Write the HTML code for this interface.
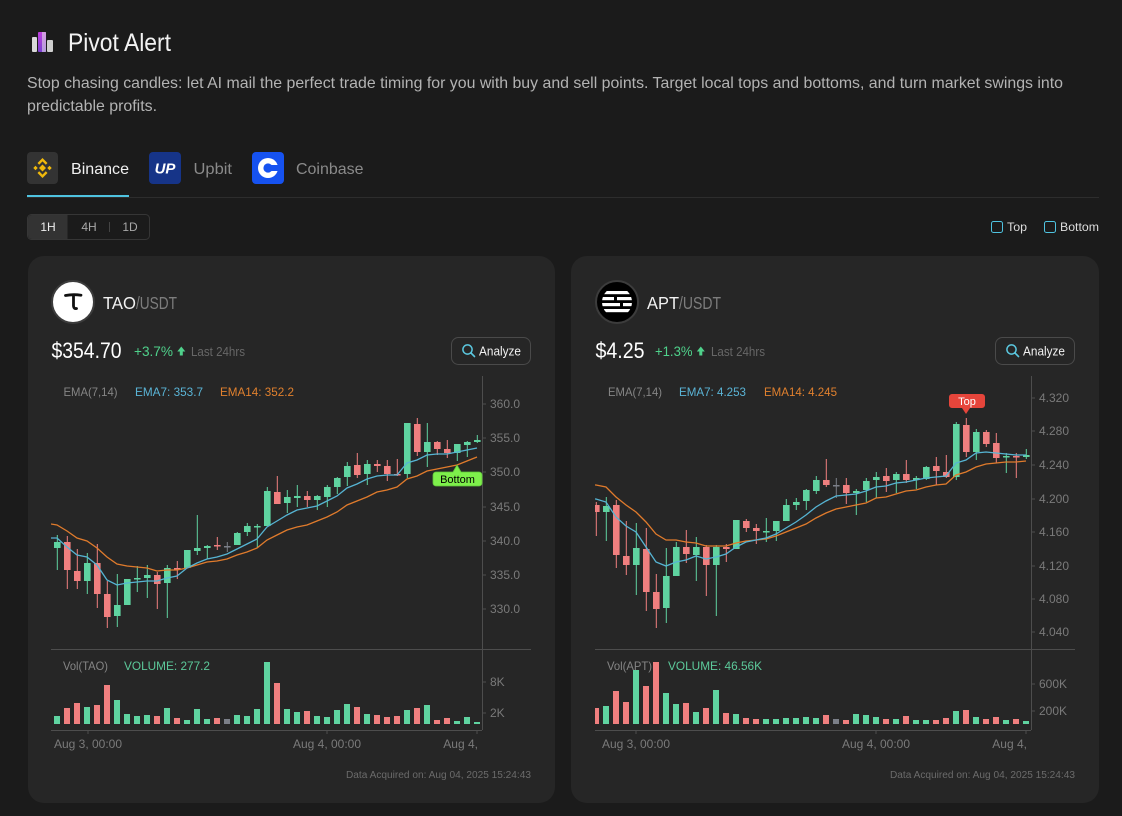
<!DOCTYPE html>
<html><head><meta charset="utf-8"><style>
html,body{margin:0;padding:0;background:#1b1b1b;}
svg{display:block;font-family:"Liberation Sans",sans-serif;}
</style></head><body>
<svg width="1122" height="816" viewBox="0 0 1122 816" xmlns="http://www.w3.org/2000/svg">
<defs>
<linearGradient id="pg" x1="0" y1="0" x2="0" y2="1"><stop offset="0" stop-color="#c040e0"/><stop offset="1" stop-color="#7a3fd0"/></linearGradient>
<clipPath id="cl1"><rect x="51" y="376" width="431" height="273"/></clipPath>
<clipPath id="cl2"><rect x="595" y="376" width="436" height="273"/></clipPath>
<clipPath id="cv1"><rect x="51" y="650" width="431" height="80"/></clipPath>
<clipPath id="cv2"><rect x="595" y="650" width="436" height="80"/></clipPath>
<clipPath id="apc"><circle cx="617" cy="302" r="15"/></clipPath>
</defs>
<rect width="1122" height="816" fill="#1b1b1b"/>

<!-- Header -->
<rect x="32" y="37" width="5" height="15" rx="1" fill="#d9d9d9"/>
<rect x="38" y="32" width="8" height="20" rx="1" fill="url(#pg)"/>
<rect x="42" y="32" width="4" height="20" fill="#e6e6e6" opacity="0.55"/>
<rect x="47" y="40" width="6" height="12" rx="1" fill="#cfcfcf"/>
<text x="68" y="51" font-size="25" fill="#f2f2f2" textLength="103" lengthAdjust="spacingAndGlyphs">Pivot Alert</text>
<text x="27" y="88" font-size="16" fill="#b3b3b3" textLength="1036" lengthAdjust="spacingAndGlyphs">Stop chasing candles: let AI mail the perfect trade timing for you with buy and sell points. Target local tops and bottoms, and turn market swings into</text>
<text x="27" y="111" font-size="16" fill="#b3b3b3" textLength="130" lengthAdjust="spacingAndGlyphs">predictable profits.</text>

<!-- Tabs -->
<rect x="27" y="152" width="31" height="32" rx="4" fill="#333333"/>
<g fill="#f0b90b">
<path d="M42.5,164.5 L46,168 L42.5,171.5 L39,168 Z"/>
<path d="M35.5,165.8 L37.7,168 L35.5,170.2 L33.3,168 Z"/>
<path d="M49.5,165.8 L51.7,168 L49.5,170.2 L47.3,168 Z"/>
<path d="M42.5,158 L47.5,163 L45.8,164.7 L42.5,161.4 L39.2,164.7 L37.5,163 Z"/>
<path d="M42.5,178 L47.5,173 L45.8,171.3 L42.5,174.6 L39.2,171.3 L37.5,173 Z"/>
</g>
<text x="71" y="174" font-size="16" fill="#f0f0f0" textLength="58" lengthAdjust="spacingAndGlyphs">Binance</text>
<rect x="149" y="152" width="32" height="32" rx="4" fill="#163488"/>
<text x="165" y="173.5" font-size="15" font-weight="bold" font-style="italic" fill="#ffffff" text-anchor="middle">UP</text>
<text x="193.5" y="174" font-size="16" fill="#8a8a8a" textLength="38.5" lengthAdjust="spacingAndGlyphs">Upbit</text>
<rect x="252" y="152" width="32" height="32" rx="4" fill="#1652f0"/>
<circle cx="268" cy="168" r="10" fill="#ffffff"/>
<circle cx="268" cy="168" r="4.6" fill="#1652f0"/>
<rect x="270" y="165" width="9" height="6" fill="#1652f0"/>
<text x="296" y="174" font-size="16" fill="#8a8a8a" textLength="67.5" lengthAdjust="spacingAndGlyphs">Coinbase</text>
<rect x="27" y="197" width="1072" height="1" fill="#2d2d2d"/>
<rect x="27" y="195" width="102" height="2" fill="#4fc3e0"/>

<!-- timeframe -->
<rect x="27.5" y="214.5" width="122" height="25" rx="4" fill="none" stroke="#363636"/>
<path d="M28,219 a4,4 0 0 1 4,-4 H67.5 V239 H32 a4,4 0 0 1 -4,-4 Z" fill="#333333"/>
<text x="48" y="231" font-size="12" fill="#eeeeee" text-anchor="middle">1H</text>
<text x="89" y="231" font-size="12" fill="#a8a8a8" text-anchor="middle">4H</text>
<rect x="109" y="222" width="1" height="10" fill="#444"/>
<text x="130" y="231" font-size="12" fill="#a8a8a8" text-anchor="middle">1D</text>

<!-- checkboxes -->
<rect x="991.5" y="221.5" width="11" height="11" rx="2" fill="none" stroke="#4fc3e0"/>
<text x="1007" y="231" font-size="12" fill="#dddddd" textLength="20" lengthAdjust="spacingAndGlyphs">Top</text>
<rect x="1044.5" y="221.5" width="11" height="11" rx="2" fill="none" stroke="#4fc3e0"/>
<text x="1060" y="231" font-size="12" fill="#dddddd" textLength="39" lengthAdjust="spacingAndGlyphs">Bottom</text>

<!-- Cards -->
<rect x="28" y="256" width="527" height="547" rx="16" fill="#262626"/>
<rect x="571" y="256" width="528" height="547" rx="16" fill="#262626"/>

<!-- ===== LEFT CARD HEADER ===== -->
<circle cx="73" cy="302" r="21" fill="#ffffff" stroke="#3c3c3c" stroke-width="2"/>
<path d="M65.5,295.5 Q73,294 81,295.2" stroke="#111" stroke-width="2.8" fill="none" stroke-linecap="round"/>
<path d="M73.5,295.5 V306 Q73.8,309 76.5,308.5" stroke="#111" stroke-width="2.8" fill="none" stroke-linecap="round"/>
<text x="103" y="309" font-size="17.5" fill="#f2f2f2" textLength="33" lengthAdjust="spacingAndGlyphs">TAO</text>
<text x="136" y="309" font-size="17.5" fill="#7d7d7d" textLength="41" lengthAdjust="spacingAndGlyphs">/USDT</text>
<text x="51.5" y="358" font-size="22" fill="#ffffff" textLength="70" lengthAdjust="spacingAndGlyphs">$354.70</text>
<text x="134" y="356" font-size="14" fill="#4fd18b" textLength="39" lengthAdjust="spacingAndGlyphs">+3.7%</text>
<path d="M177.3,351.5 L181.3,346.5 L185.3,351.5 Z" fill="#4fd18b"/><rect x="179.8" y="351" width="3" height="4.5" fill="#4fd18b"/>
<text x="191" y="356" font-size="12.5" fill="#676767" textLength="54" lengthAdjust="spacingAndGlyphs">Last 24hrs</text>
<rect x="451.5" y="337.5" width="79" height="27" rx="7" fill="none" stroke="#4a4a4a"/>
<circle cx="467.5" cy="349.5" r="4.6" fill="none" stroke="#5bc8e0" stroke-width="1.5"/>
<line x1="471" y1="353" x2="474.5" y2="356.5" stroke="#5bc8e0" stroke-width="1.6" stroke-linecap="round"/>
<text x="479" y="355.5" font-size="13" fill="#f0f0f0" textLength="42" lengthAdjust="spacingAndGlyphs">Analyze</text>

<!-- left chart labels -->
<text x="63.5" y="396" font-size="12" fill="#858585" textLength="54" lengthAdjust="spacingAndGlyphs">EMA(7,14)</text>
<text x="135" y="396" font-size="12" fill="#5ab4d6" textLength="68" lengthAdjust="spacingAndGlyphs">EMA7: 353.7</text>
<text x="220" y="396" font-size="12" fill="#e0802e" textLength="74" lengthAdjust="spacingAndGlyphs">EMA14: 352.2</text>

<!-- left axes -->
<g stroke="#4d4d4d" stroke-width="1">
<line x1="482.5" y1="376" x2="482.5" y2="730"/>
<line x1="51" y1="649.5" x2="531" y2="649.5"/>
<line x1="51" y1="730.5" x2="482" y2="730.5"/>
<line x1="482" y1="404" x2="486" y2="404"/><line x1="482" y1="438" x2="486" y2="438"/><line x1="482" y1="472" x2="486" y2="472"/><line x1="482" y1="507" x2="486" y2="507"/><line x1="482" y1="541" x2="486" y2="541"/><line x1="482" y1="575" x2="486" y2="575"/><line x1="482" y1="609" x2="486" y2="609"/>
<line x1="482" y1="682" x2="486" y2="682"/><line x1="482" y1="713" x2="486" y2="713"/>
<line x1="88" y1="730" x2="88" y2="734"/><line x1="327" y1="730" x2="327" y2="734"/><line x1="477" y1="730" x2="477" y2="734"/>
</g>
<g font-size="12" fill="#7a7a7a">
<text x="490" y="408">360.0</text><text x="490" y="442">355.0</text><text x="490" y="476">350.0</text><text x="490" y="511">345.0</text><text x="490" y="545">340.0</text><text x="490" y="579">335.0</text><text x="490" y="613">330.0</text>
<text x="490" y="686">8K</text><text x="490" y="717">2K</text>
<text x="88" y="748" text-anchor="middle">Aug 3, 00:00</text>
<text x="327" y="748" text-anchor="middle">Aug 4, 00:00</text>
<text x="478" y="748" text-anchor="end">Aug 4,</text>
</g>
<text x="531" y="778" font-size="10" fill="#6b6b6b" text-anchor="end" textLength="185" lengthAdjust="spacingAndGlyphs">Data Acquired on: Aug 04, 2025 15:24:43</text>

<!-- left candles -->
<g clip-path="url(#cl1)">
<g fill="#5fd3a0">
<rect x="56.8" y="535" width="1" height="35"/><rect x="54" y="542" width="6.6" height="6"/>
<rect x="86.8" y="553" width="1" height="41"/><rect x="84" y="563" width="6.6" height="18"/>
<rect x="116.8" y="574" width="1" height="53"/><rect x="114" y="605" width="6.6" height="11"/>
<rect x="124" y="579" width="6.6" height="26"/>
<rect x="136.8" y="566" width="1" height="26"/><rect x="134" y="578" width="6.6" height="1.5"/>
<rect x="146.8" y="565" width="1" height="33"/><rect x="144" y="575" width="6.6" height="3"/>
<rect x="166.8" y="565" width="1" height="53"/><rect x="164" y="568" width="6.6" height="15"/>
<rect x="184" y="550" width="6.6" height="18"/>
<rect x="196.8" y="515" width="1" height="40"/><rect x="194" y="548" width="6.6" height="3"/>
<rect x="206.8" y="545" width="1" height="14"/><rect x="204" y="546" width="6.6" height="2"/>
<rect x="236.8" y="532" width="1" height="13"/><rect x="234" y="533" width="6.6" height="12"/>
<rect x="246.8" y="523" width="1" height="13"/><rect x="244" y="526" width="6.6" height="6"/>
<rect x="256.8" y="524" width="1" height="24"/><rect x="254" y="526" width="6.6" height="1.5"/>
<rect x="266.8" y="487" width="1" height="39"/><rect x="264" y="491" width="6.6" height="35"/>
<rect x="286.8" y="490" width="1" height="23"/><rect x="284" y="497" width="6.6" height="6"/>
<rect x="296.8" y="485" width="1" height="22"/><rect x="294" y="496" width="6.6" height="2"/>
<rect x="316.8" y="495" width="1" height="15"/><rect x="314" y="496" width="6.6" height="4"/>
<rect x="326.8" y="485" width="1" height="22"/><rect x="324" y="487" width="6.6" height="10"/>
<rect x="336.8" y="477" width="1" height="17"/><rect x="334" y="478" width="6.6" height="9"/>
<rect x="346.8" y="462" width="1" height="24"/><rect x="344" y="466" width="6.6" height="11"/>
<rect x="366.8" y="460" width="1" height="25"/><rect x="364" y="464" width="6.6" height="10"/>
<rect x="406.8" y="423" width="1" height="55"/><rect x="404" y="423" width="6.6" height="51"/>
<rect x="426.8" y="423" width="1" height="44"/><rect x="424" y="442" width="6.6" height="10"/>
<rect x="456.8" y="444" width="1" height="17"/><rect x="454" y="444" width="6.6" height="9"/>
<rect x="466.8" y="441" width="1" height="16"/><rect x="464" y="442" width="6.6" height="3"/>
<rect x="476.8" y="435" width="1" height="8"/><rect x="474" y="440" width="6.6" height="2"/>
</g>
<g fill="#f07f7f">
<rect x="66.8" y="536" width="1" height="53"/><rect x="64" y="542" width="6.6" height="28"/>
<rect x="76.8" y="549" width="1" height="40"/><rect x="74" y="571" width="6.6" height="10"/>
<rect x="96.8" y="544" width="1" height="64"/><rect x="94" y="563" width="6.6" height="31"/>
<rect x="106.8" y="581" width="1" height="47"/><rect x="104" y="594" width="6.6" height="23"/>
<rect x="156.8" y="572" width="1" height="37"/><rect x="154" y="575" width="6.6" height="9"/>
<rect x="176.8" y="561" width="1" height="18"/><rect x="174" y="568" width="6.6" height="1.5"/>
<rect x="216.8" y="537" width="1" height="13"/><rect x="214" y="545" width="6.6" height="1.5"/>
<rect x="276.8" y="476" width="1" height="28"/><rect x="274" y="492" width="6.6" height="12"/>
<rect x="306.8" y="491" width="1" height="16"/><rect x="304" y="496" width="6.6" height="4"/>
<rect x="356.8" y="453" width="1" height="25"/><rect x="354" y="465" width="6.6" height="10"/>
<rect x="376.8" y="460" width="1" height="12"/><rect x="374" y="464" width="6.6" height="2"/>
<rect x="386.8" y="460" width="1" height="21"/><rect x="384" y="466" width="6.6" height="8"/>
<rect x="396.8" y="459" width="1" height="17"/><rect x="394" y="474" width="6.6" height="1.5"/>
<rect x="416.8" y="418" width="1" height="38"/><rect x="414" y="424" width="6.6" height="28"/>
<rect x="436.8" y="441" width="1" height="14"/><rect x="434" y="442" width="6.6" height="7"/>
<rect x="446.8" y="440" width="1" height="18"/><rect x="444" y="449" width="6.6" height="4"/>
</g>
<g fill="#7b7f88"><rect x="226.8" y="542" width="1" height="10"/><rect x="224" y="546" width="6.6" height="1.5"/></g>
<polyline fill="none" stroke="#e07b2c" stroke-width="1.3" points="51,524 57,525 67,531 77,538 87,541 97,548 107,557 117,564 127,566 137,567 147,568 157,571 167,570 177,570 187,568 197,565 207,562 217,561 227,559 237,555 247,552 257,548 267,540 277,535 287,530 297,527 307,525 317,521 327,517 337,512 347,505 357,501 367,497 377,492 387,490 397,487 407,479 417,476 427,471 437,469 447,467 457,465 467,461 477,457"/>
<polyline fill="none" stroke="#56b4d3" stroke-width="1.3" points="51,538 57,538 67,547 77,555 87,557 97,565 107,580 117,585 127,583 137,582 147,581 157,581 167,578 177,576 187,568 197,563 207,559 217,557 227,554 237,549 247,544 257,539 267,527 277,521 287,515 297,510 307,508 317,506 327,501 337,496 347,488 357,484 367,479 377,476 387,475 397,475 407,463 417,460 427,455 437,454 447,454 457,452 467,450 477,448"/>
</g>
<!-- Bottom marker -->
<path d="M436,472 H453 L457,465 L461,472 H479 a3,3 0 0 1 3,3 V483 a3,3 0 0 1 -3,3 H436 a3,3 0 0 1 -3,-3 V475 a3,3 0 0 1 3,-3 Z" fill="#7ef04b" stroke="#5fc43a" stroke-width="0.8"/>
<text x="457.5" y="483" font-size="11" fill="#000" text-anchor="middle">Bottom</text>

<!-- left volume -->
<g clip-path="url(#cv1)">
<g fill="#5fd3a0">
<rect x="54" y="716" width="6" height="8"/><rect x="84" y="707" width="6" height="17"/><rect x="114" y="700" width="6" height="24"/><rect x="124" y="714" width="6" height="10"/><rect x="134" y="716" width="6" height="8"/><rect x="144" y="715" width="6" height="9"/><rect x="164" y="708" width="6" height="16"/><rect x="184" y="720" width="6" height="4"/><rect x="194" y="709" width="6" height="15"/><rect x="204" y="719" width="6" height="5"/><rect x="234" y="715" width="6" height="9"/><rect x="244" y="716" width="6" height="8"/><rect x="254" y="709" width="6" height="15"/><rect x="264" y="662" width="6" height="62"/><rect x="284" y="709" width="6" height="15"/><rect x="294" y="712" width="6" height="12"/><rect x="314" y="716" width="6" height="8"/><rect x="324" y="717" width="6" height="7"/><rect x="334" y="710" width="6" height="14"/><rect x="344" y="704" width="6" height="20"/><rect x="364" y="714" width="6" height="10"/><rect x="404" y="710" width="6" height="14"/><rect x="424" y="705" width="6" height="19"/><rect x="454" y="721" width="6" height="3"/><rect x="464" y="717" width="6" height="7"/><rect x="474" y="722" width="6" height="2"/>
</g>
<g fill="#f07f7f">
<rect x="64" y="708" width="6" height="16"/><rect x="74" y="703" width="6" height="21"/><rect x="94" y="705" width="6" height="19"/><rect x="104" y="685" width="6" height="39"/><rect x="154" y="716" width="6" height="8"/><rect x="174" y="718" width="6" height="6"/><rect x="214" y="718" width="6" height="6"/><rect x="274" y="683" width="6" height="41"/><rect x="304" y="711" width="6" height="13"/><rect x="354" y="707" width="6" height="17"/><rect x="374" y="715" width="6" height="9"/><rect x="384" y="717" width="6" height="7"/><rect x="394" y="716" width="6" height="8"/><rect x="414" y="708" width="6" height="16"/><rect x="434" y="720" width="6" height="4"/><rect x="444" y="718" width="6" height="6"/>
</g>
<rect x="224" y="719" width="6" height="5" fill="#7b7f88"/>
</g>
<text x="63" y="670" font-size="12" fill="#858585" textLength="45" lengthAdjust="spacingAndGlyphs">Vol(TAO)</text>
<text x="124" y="670" font-size="12" fill="#5cc99a" textLength="86" lengthAdjust="spacingAndGlyphs">VOLUME: 277.2</text>

<!-- ===== RIGHT CARD HEADER ===== -->
<circle cx="617" cy="302" r="21" fill="#000000" stroke="#3c3c3c" stroke-width="2"/>
<g clip-path="url(#apc)" fill="#ffffff">
<rect x="600" y="291" width="34" height="3.2"/>
<rect x="600" y="297" width="14" height="3.2"/><rect x="617" y="297" width="17" height="3.2"/>
<rect x="600" y="303" width="20" height="3.2"/><rect x="623" y="303" width="11" height="3.2"/>
<rect x="600" y="309" width="34" height="3.2"/>
</g>
<text x="647" y="309" font-size="17.5" fill="#f2f2f2" textLength="32" lengthAdjust="spacingAndGlyphs">APT</text>
<text x="679" y="309" font-size="17.5" fill="#7d7d7d" textLength="42" lengthAdjust="spacingAndGlyphs">/USDT</text>
<text x="595.5" y="358" font-size="22" fill="#ffffff" textLength="49" lengthAdjust="spacingAndGlyphs">$4.25</text>
<text x="655" y="356" font-size="14" fill="#4fd18b" textLength="37.5" lengthAdjust="spacingAndGlyphs">+1.3%</text>
<path d="M696.8,351.5 L700.8,346.5 L704.8,351.5 Z" fill="#4fd18b"/><rect x="699.3" y="351" width="3" height="4.5" fill="#4fd18b"/>
<text x="711" y="356" font-size="12.5" fill="#676767" textLength="54" lengthAdjust="spacingAndGlyphs">Last 24hrs</text>
<rect x="995.5" y="337.5" width="79" height="27" rx="7" fill="none" stroke="#4a4a4a"/>
<circle cx="1011.5" cy="349.5" r="4.6" fill="none" stroke="#5bc8e0" stroke-width="1.5"/>
<line x1="1015" y1="353" x2="1018.5" y2="356.5" stroke="#5bc8e0" stroke-width="1.6" stroke-linecap="round"/>
<text x="1023" y="355.5" font-size="13" fill="#f0f0f0" textLength="42" lengthAdjust="spacingAndGlyphs">Analyze</text>

<text x="608" y="396" font-size="12" fill="#858585" textLength="54" lengthAdjust="spacingAndGlyphs">EMA(7,14)</text>
<text x="679" y="396" font-size="12" fill="#5ab4d6" textLength="67" lengthAdjust="spacingAndGlyphs">EMA7: 4.253</text>
<text x="764" y="396" font-size="12" fill="#e0802e" textLength="73" lengthAdjust="spacingAndGlyphs">EMA14: 4.245</text>

<!-- right axes -->
<g stroke="#4d4d4d" stroke-width="1">
<line x1="1031.5" y1="376" x2="1031.5" y2="730"/>
<line x1="595" y1="649.5" x2="1075" y2="649.5"/>
<line x1="595" y1="730.5" x2="1031" y2="730.5"/>
<line x1="1031" y1="398" x2="1035" y2="398"/><line x1="1031" y1="431" x2="1035" y2="431"/><line x1="1031" y1="465" x2="1035" y2="465"/><line x1="1031" y1="499" x2="1035" y2="499"/><line x1="1031" y1="532" x2="1035" y2="532"/><line x1="1031" y1="566" x2="1035" y2="566"/><line x1="1031" y1="599" x2="1035" y2="599"/><line x1="1031" y1="632" x2="1035" y2="632"/>
<line x1="1031" y1="684" x2="1035" y2="684"/><line x1="1031" y1="711" x2="1035" y2="711"/>
<line x1="636" y1="730" x2="636" y2="734"/><line x1="876" y1="730" x2="876" y2="734"/><line x1="1026" y1="730" x2="1026" y2="734"/>
</g>
<g font-size="12" fill="#7a7a7a">
<text x="1039" y="402">4.320</text><text x="1039" y="435">4.280</text><text x="1039" y="469">4.240</text><text x="1039" y="503">4.200</text><text x="1039" y="536">4.160</text><text x="1039" y="570">4.120</text><text x="1039" y="603">4.080</text><text x="1039" y="636">4.040</text>
<text x="1039" y="688">600K</text><text x="1039" y="715">200K</text>
<text x="636" y="748" text-anchor="middle">Aug 3, 00:00</text>
<text x="876" y="748" text-anchor="middle">Aug 4, 00:00</text>
<text x="1027" y="748" text-anchor="end">Aug 4,</text>
</g>
<text x="1075" y="778" font-size="10" fill="#6b6b6b" text-anchor="end" textLength="185" lengthAdjust="spacingAndGlyphs">Data Acquired on: Aug 04, 2025 15:24:43</text>

<!-- right candles -->
<g clip-path="url(#cl2)">
<g fill="#5fd3a0">
<rect x="605.8" y="497" width="1" height="44"/><rect x="603" y="506" width="6.6" height="6"/>
<rect x="635.8" y="523" width="1" height="72"/><rect x="633" y="548" width="6.6" height="17"/>
<rect x="665.8" y="548" width="1" height="75"/><rect x="663" y="576" width="6.6" height="32"/>
<rect x="675.8" y="542" width="1" height="34"/><rect x="673" y="547" width="6.6" height="29"/>
<rect x="695.8" y="537" width="1" height="44"/><rect x="693" y="547" width="6.6" height="8"/>
<rect x="715.8" y="545" width="1" height="71"/><rect x="713" y="547" width="6.6" height="18"/>
<rect x="733" y="520" width="6.6" height="29"/>
<rect x="765.8" y="518" width="1" height="24"/><rect x="763" y="531" width="6.6" height="1.5"/>
<rect x="775.8" y="521" width="1" height="20"/><rect x="773" y="521" width="6.6" height="10"/>
<rect x="785.8" y="499" width="1" height="22"/><rect x="783" y="505" width="6.6" height="16"/>
<rect x="795.8" y="498" width="1" height="12"/><rect x="793" y="502" width="6.6" height="3"/>
<rect x="805.8" y="489" width="1" height="21"/><rect x="803" y="490" width="6.6" height="11"/>
<rect x="815.8" y="476" width="1" height="18"/><rect x="813" y="480" width="6.6" height="11"/>
<rect x="855.8" y="489" width="1" height="26"/><rect x="853" y="491" width="6.6" height="2"/>
<rect x="865.8" y="478" width="1" height="24"/><rect x="863" y="481" width="6.6" height="9"/>
<rect x="875.8" y="472" width="1" height="26"/><rect x="873" y="477" width="6.6" height="3"/>
<rect x="895.8" y="472" width="1" height="21"/><rect x="893" y="474" width="6.6" height="6"/>
<rect x="915.8" y="476" width="1" height="13"/><rect x="913" y="478" width="6.6" height="2"/>
<rect x="925.8" y="466" width="1" height="14"/><rect x="923" y="467" width="6.6" height="12"/>
<rect x="955.8" y="422" width="1" height="58"/><rect x="953" y="424" width="6.6" height="53"/>
<rect x="975.8" y="429" width="1" height="31"/><rect x="973" y="432" width="6.6" height="20"/>
<rect x="1005.8" y="453" width="1" height="20"/><rect x="1003" y="456" width="6.6" height="1.5"/>
<rect x="1025.8" y="449" width="1" height="10"/><rect x="1023" y="455" width="6.6" height="2"/>
</g>
<g fill="#f07f7f">
<rect x="595.8" y="502" width="1" height="34"/><rect x="593" y="505" width="6.6" height="7"/>
<rect x="615.8" y="500" width="1" height="68"/><rect x="613" y="505" width="6.6" height="50"/>
<rect x="625.8" y="521" width="1" height="54"/><rect x="623" y="556" width="6.6" height="9"/>
<rect x="645.8" y="528" width="1" height="83"/><rect x="643" y="549" width="6.6" height="43"/>
<rect x="655.8" y="574" width="1" height="54"/><rect x="653" y="592" width="6.6" height="17"/>
<rect x="685.8" y="530" width="1" height="33"/><rect x="683" y="547" width="6.6" height="7"/>
<rect x="705.8" y="545" width="1" height="51"/><rect x="703" y="547" width="6.6" height="18"/>
<rect x="725.8" y="544" width="1" height="18"/><rect x="723" y="547" width="6.6" height="2"/>
<rect x="745.8" y="519" width="1" height="13"/><rect x="743" y="521" width="6.6" height="7"/>
<rect x="755.8" y="524" width="1" height="20"/><rect x="753" y="528" width="6.6" height="3"/>
<rect x="825.8" y="459" width="1" height="28"/><rect x="823" y="480" width="6.6" height="5"/>
<rect x="845.8" y="478" width="1" height="26"/><rect x="843" y="485" width="6.6" height="8"/>
<rect x="885.8" y="468" width="1" height="24"/><rect x="883" y="476" width="6.6" height="5"/>
<rect x="905.8" y="460" width="1" height="23"/><rect x="903" y="474" width="6.6" height="6"/>
<rect x="935.8" y="457" width="1" height="28"/><rect x="933" y="466" width="6.6" height="5"/>
<rect x="945.8" y="455" width="1" height="23"/><rect x="943" y="472" width="6.6" height="5"/>
<rect x="965.8" y="418" width="1" height="39"/><rect x="963" y="425" width="6.6" height="27"/>
<rect x="985.8" y="430" width="1" height="17"/><rect x="983" y="432" width="6.6" height="12"/>
<rect x="995.8" y="433" width="1" height="30"/><rect x="993" y="443" width="6.6" height="15"/>
<rect x="1015.8" y="453" width="1" height="25"/><rect x="1013" y="456" width="6.6" height="1.5"/>
</g>
<g fill="#7b7f88"><rect x="835.8" y="478" width="1" height="20"/><rect x="833" y="485" width="6.6" height="1.5"/></g>
<polyline fill="none" stroke="#e07b2c" stroke-width="1.3" points="595,485 596,485 606,487 616,497 626,505 636,512 646,522 656,534 666,540 676,540 686,542 696,543 706,546 716,546 726,546 736,543 746,541 756,540 766,539 776,536 786,532 796,528 806,524 816,518 826,513 836,509 846,507 856,505 866,503 876,498 886,497 896,494 906,491 916,490 926,487 936,485 946,484 956,475 966,472 976,467 986,464 996,463 1006,462 1016,462 1026,461"/>
<polyline fill="none" stroke="#56b4d3" stroke-width="1.3" points="595,499 596,499 606,502 616,517 626,526 636,532 646,547 656,562 666,566 676,562 686,560 696,556 706,559 716,557 726,554 736,547 746,542 756,540 766,538 776,534 786,528 796,522 806,515 816,507 826,501 836,496 846,495 856,494 866,491 876,487 886,486 896,483 906,482 916,480 926,478 936,477 946,476 956,463 966,460 976,453 986,452 996,453 1006,454 1016,455 1026,455"/>
</g>
<!-- Top marker -->
<path d="M952,394 H982 a3,3 0 0 1 3,3 V405 a3,3 0 0 1 -3,3 H970 L966,414 L962,408 H952 a3,3 0 0 1 -3,-3 V397 a3,3 0 0 1 3,-3 Z" fill="#e6453b"/>
<text x="967" y="405" font-size="11" fill="#ffffff" text-anchor="middle">Top</text>

<!-- right volume -->
<g clip-path="url(#cv2)">
<g fill="#5fd3a0">
<rect x="603" y="706" width="6" height="18"/><rect x="633" y="670" width="6" height="54"/><rect x="663" y="693" width="6" height="31"/><rect x="673" y="704" width="6" height="20"/><rect x="693" y="712" width="6" height="12"/><rect x="713" y="690" width="6" height="34"/><rect x="733" y="714" width="6" height="10"/><rect x="763" y="719" width="6" height="5"/><rect x="773" y="719" width="6" height="5"/><rect x="783" y="718" width="6" height="6"/><rect x="793" y="718" width="6" height="6"/><rect x="803" y="717" width="6" height="7"/><rect x="813" y="718" width="6" height="6"/><rect x="853" y="714" width="6" height="10"/><rect x="863" y="715" width="6" height="9"/><rect x="873" y="717" width="6" height="7"/><rect x="893" y="719" width="6" height="5"/><rect x="913" y="720" width="6" height="4"/><rect x="923" y="720" width="6" height="4"/><rect x="953" y="711" width="6" height="13"/><rect x="973" y="717" width="6" height="7"/><rect x="1003" y="720" width="6" height="4"/><rect x="1023" y="721" width="6" height="3"/>
</g>
<g fill="#f07f7f">
<rect x="593" y="708" width="6" height="16"/><rect x="613" y="691" width="6" height="33"/><rect x="623" y="702" width="6" height="22"/><rect x="643" y="686" width="6" height="38"/><rect x="653" y="662" width="6" height="62"/><rect x="683" y="703" width="6" height="21"/><rect x="703" y="708" width="6" height="16"/><rect x="723" y="713" width="6" height="11"/><rect x="743" y="718" width="6" height="6"/><rect x="753" y="719" width="6" height="5"/><rect x="823" y="715" width="6" height="9"/><rect x="843" y="720" width="6" height="4"/><rect x="883" y="719" width="6" height="5"/><rect x="903" y="716" width="6" height="8"/><rect x="933" y="720" width="6" height="4"/><rect x="943" y="718" width="6" height="6"/><rect x="963" y="710" width="6" height="14"/><rect x="983" y="719" width="6" height="5"/><rect x="993" y="717" width="6" height="7"/><rect x="1013" y="719" width="6" height="5"/>
</g>
<rect x="833" y="719" width="6" height="5" fill="#7b7f88"/>
</g>
<text x="607" y="670" font-size="12" fill="#858585" textLength="45" lengthAdjust="spacingAndGlyphs">Vol(APT)</text>
<text x="668" y="670" font-size="12" fill="#5cc99a" textLength="94" lengthAdjust="spacingAndGlyphs">VOLUME: 46.56K</text>
</svg>
</body></html>
